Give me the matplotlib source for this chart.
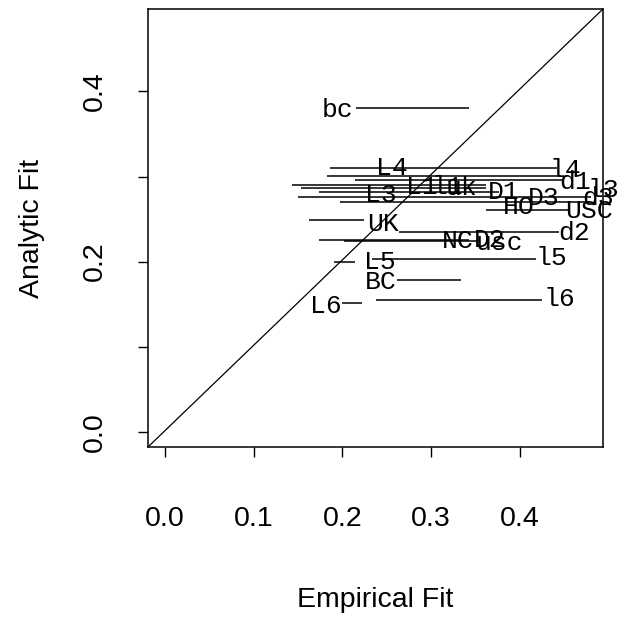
import numpy as np
import matplotlib.pyplot as plt

# horizontal segments: empirical start, empirical end, analytic value
seg_x0 = np.array([0.216, 0.186, 0.183, 0.214, 0.143, 0.154, 0.174, 0.150, 0.197,
                   0.362, 0.163, 0.264, 0.174, 0.202, 0.234, 0.191, 0.262, 0.200, 0.238])
seg_x1 = np.array([0.343, 0.442, 0.447, 0.450, 0.362, 0.362, 0.377, 0.480, 0.478,
                   0.456, 0.225, 0.444, 0.343, 0.354, 0.418, 0.214, 0.334, 0.222, 0.425])
seg_y = np.array([0.381, 0.310, 0.301, 0.296, 0.290, 0.286, 0.282, 0.276, 0.270,
                  0.261, 0.249, 0.235, 0.225, 0.224, 0.203, 0.199, 0.178, 0.151, 0.155])

# point labels
lab_text = ["bc", "L4", "l4", "d1", "l3", "d3", "USC", "d2", "L1", "l1", "uk",
            "D1", "D3", "HO", "L3", "UK", "NC", "usc", "D2", "L5", "l5", "BC", "L6", "l6"]
lab_x = np.array([0.195, 0.256, 0.452, 0.463, 0.494, 0.489, 0.478, 0.461, 0.290, 0.318, 0.334,
                  0.382, 0.427, 0.399, 0.244, 0.246, 0.330, 0.377, 0.366, 0.242, 0.436, 0.243, 0.181, 0.445])
lab_y = np.array([0.378, 0.310, 0.308, 0.294, 0.284, 0.275, 0.259, 0.234, 0.288, 0.288, 0.287,
                  0.282, 0.275, 0.264, 0.278, 0.244, 0.224, 0.222, 0.225, 0.199, 0.204, 0.176, 0.148, 0.156])

fig = plt.figure(figsize=(6.24, 6.22), dpi=100)
ax = fig.add_axes([0.2372, 0.2814, 0.7292, 0.7042])

lo, hi = -0.019, 0.494
ax.set_xlim(lo, hi)
ax.set_ylim(-0.018, 0.497)

ax.plot([lo, hi], [-0.018, 0.497], color="black", lw=0.9)
ax.hlines(seg_y, seg_x0, seg_x1, color="black", lw=1.1)
for t, x, y in zip(lab_text, lab_x, lab_y):
    ax.text(x, y, t, ha="center", va="center", fontsize=19,
            family="Liberation Mono", clip_on=False)

ax.set_xticks([0.0, 0.1, 0.2, 0.3, 0.4])
ax.set_yticks([0.0, 0.1, 0.2, 0.3, 0.4])
ax.set_xticklabels(["0.0", "0.1", "0.2", "0.3", "0.4"])
ax.set_yticklabels(["0.0", "", "0.2", "", "0.4"])
ax.tick_params(axis="x", length=7.2, width=1, pad=35, labelsize=20.5)
ax.tick_params(axis="y", length=7.2, width=1, pad=22, labelsize=20.5)
for lb in ax.get_yticklabels():
    lb.set_rotation(90)
    lb.set_va("center")
for lb in ax.get_xticklabels() + ax.get_yticklabels():
    lb.set_family("Liberation Sans")
for s in ax.spines.values():
    s.set_linewidth(1.1)

ax.set_xlabel("Empirical Fit", fontsize=20.5, family="Liberation Sans", va="center")
ax.xaxis.set_label_coords(0.5, -0.349)
ax.set_ylabel("Analytic Fit", fontsize=20.5, family="Liberation Sans", va="center")
ax.yaxis.set_label_coords(-0.255, 0.5)

fig.savefig("out.png", dpi=100)
